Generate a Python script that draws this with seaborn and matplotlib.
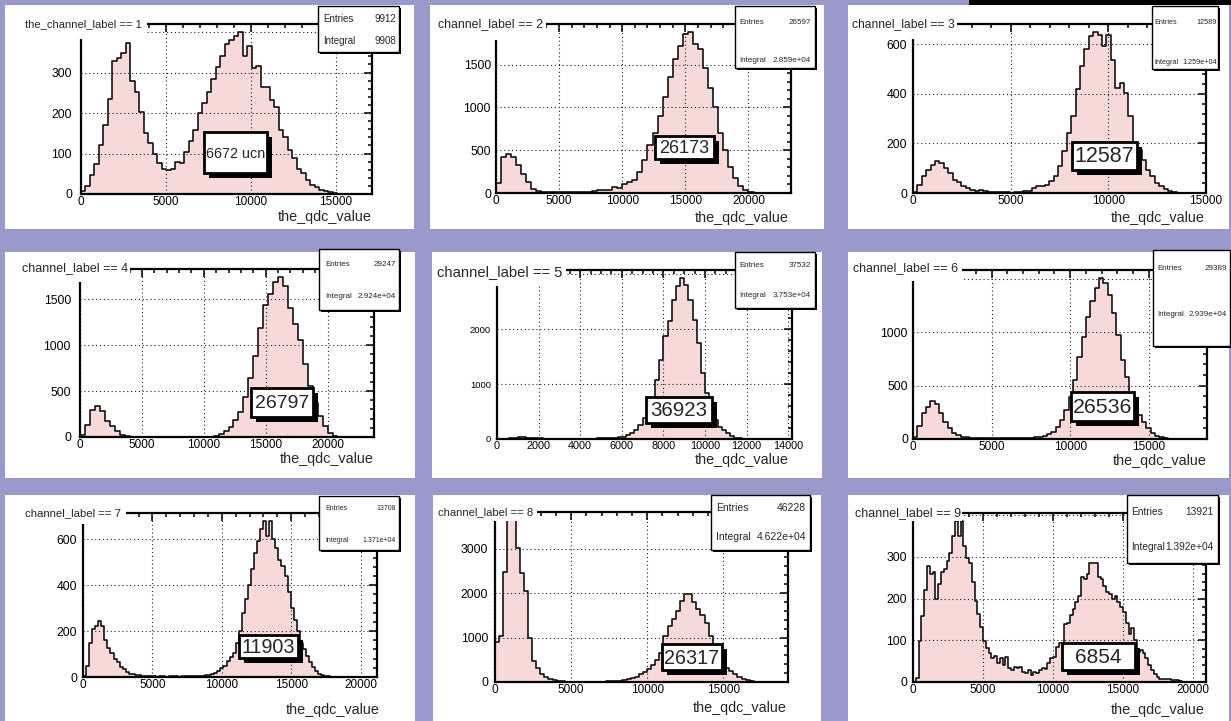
import numpy as np
import pandas as pd
import seaborn as sns
import matplotlib.pyplot as plt
from matplotlib.patches import Rectangle
from matplotlib.ticker import MultipleLocator, AutoMinorLocator, FuncFormatter

# --- dati: larghezza dei bin (unita' qdc) e conteggi per canale ---
ch1_width = 265
ch1_counts = [8, 20, 47, 74, 120, 171, 235, 329, 336, 348, 373, 280, 253, 202, 150, 125, 99, 76, 63,
              59, 63, 80, 76, 105, 130, 158, 200, 224, 253, 284, 315, 340, 370, 381, 390, 400, 340,
              366, 311, 316, 264, 264, 232, 216, 158, 142, 109, 88, 63, 51, 35, 22, 18, 10, 8, 5, 3]

ch2_width = 400
ch2_counts = [120, 420, 455, 420, 330, 226, 128, 50, 23, 12, 10, 8, 8, 10, 10, 12, 12, 15, 15, 20,
              30, 30, 40, 70, 60, 100, 130, 150, 250, 380, 560, 700, 900, 1120, 1350, 1560, 1720,
              1860, 1880, 1740, 1680, 1460, 1230, 1000, 700, 500, 300, 180, 80, 30, 8]

ch3_width = 225
ch3_counts = [3, 34, 67, 94, 115, 131, 121, 101, 81, 54, 43, 30, 20, 11, 10, 12, 8, 5, 4, 4, 4, 3,
              2, 3, 6, 7, 10, 20, 27, 28, 34, 47, 67, 108, 169, 243, 310, 418, 512, 580, 634, 650,
              640, 595, 640, 539, 425, 445, 404, 310, 202, 175, 135, 94, 67, 40, 27, 16, 9, 4, 2]

ch4_width = 400
ch4_counts = [20, 130, 290, 333, 279, 175, 116, 62, 25, 8, 5, 3, 2, 2, 2, 1, 1, 2, 1, 1, 1, 2, 2,
              1, 2, 2, 3, 10, 30, 65, 110, 180, 270, 430, 640, 880, 1180, 1440, 1550, 1690, 1740,
              1640, 1400, 1230, 1060, 790, 551, 370, 225, 116, 43, 14, 4]

ch5_width = 200
ch5_counts = [0, 2, 5, 10, 25, 35, 30, 25, 20, 12, 10, 8, 8, 6, 6, 5, 5, 5, 5, 5, 5, 6, 6, 8, 10,
              12, 15, 20, 25, 30, 40, 73, 115, 164, 255, 377, 529, 711, 1076, 1441, 1866, 2140,
              2535, 2778, 2930, 2808, 2535, 2170, 1745, 1198, 833, 529, 347, 225, 164, 103, 55,
              24, 10, 4]

ch6_width = 275
ch6_counts = [20, 120, 241, 304, 360, 329, 241, 163, 100, 60, 38, 22, 15, 12, 10, 6, 6, 5, 5, 5,
              5, 5, 5, 5, 6, 8, 10, 14, 16, 20, 30, 45, 69, 116, 179, 273, 398, 555, 774, 962,
              1150, 1291, 1417, 1511, 1464, 1354, 1182, 978, 743, 586, 429, 335, 226, 163, 100,
              60, 28, 16, 6]

ch7_width = 220
ch7_counts = [5, 47, 148, 207, 221, 243, 220, 160, 127, 105, 80, 65, 45, 35, 20, 15, 13, 10, 7, 6,
              5, 4, 3, 3, 2, 3, 3, 2, 3, 3, 3, 2, 3, 3, 4, 3, 4, 5, 6, 6, 8, 10, 14, 17, 25, 39,
              50, 68, 85, 105, 150, 200, 279, 340, 400, 469, 540, 590, 643, 680, 614, 680, 600,
              560, 510, 483, 440, 370, 300, 250, 200, 150, 120, 90, 65, 45, 25, 15, 10, 5, 3, 2]

ch8_width = 270
ch8_counts = [900, 1030, 2480, 3640, 3640, 3015, 2440, 2050, 1000, 480, 310, 190, 114, 61, 40, 25,
              15, 8, 3, 2, 2, 1, 1, 2, 3, 5, 8, 12, 18, 23, 30, 45, 60, 90, 120, 180, 220, 282,
              380, 496, 649, 1030, 1250, 1412, 1603, 1832, 1985, 1985, 1794, 1641, 1500, 1336,
              1030, 725, 572, 496, 305, 250, 190, 114, 61, 35, 23, 10, 5]

ch9_width = 200
ch9_counts = [0, 10, 98, 159, 220, 277, 260, 264, 200, 236, 264, 272, 290, 309, 350, 386, 350, 386,
              325, 297, 285, 240, 195, 163, 131, 98, 82, 70, 58, 62, 45, 58, 41, 59, 33, 29, 37,
              33, 37, 25, 21, 29, 17, 25, 21, 29, 33, 30, 45, 58, 61, 85, 93, 93, 138, 142, 160,
              175, 191, 207, 252, 248, 260, 285, 285, 285, 252, 248, 230, 215, 211, 199, 207, 191,
              180, 167, 142, 114, 130, 100, 73, 77, 69, 57, 41, 28, 20, 12, 8, 6, 6, 6, 5, 4, 4, 2]

widths = [ch1_width, ch2_width, ch3_width, ch4_width, ch5_width, ch6_width, ch7_width, ch8_width, ch9_width]
all_counts = [ch1_counts, ch2_counts, ch3_counts, ch4_counts, ch5_counts, ch6_counts,
              ch7_counts, ch8_counts, ch9_counts]

titles = ["the_channel_label == 1"] + ["channel_label == %d" % i for i in range(2, 10)]
entries = ["9912", "26597", "12589", "29247", "37532", "29389", "13708", "46228", "13921"]
integrals = ["9908", "2.859e+04", "1.259e+04", "2.924e+04", "3.753e+04", "2.939e+04",
             "1.371e+04", "4.622e+04", "1.392e+04"]
ucn_labels = ["6672 ucn", "26173", "12587", "26797", "36923", "26536", "11903", "26317", "6854"]
xlabel = "the_qdc_value"

# --- impaginazione in pixel (x0, y0, x1, y1); ylab_max = ultima etichetta y visibile ---
layout = [
    dict(panel=(5, 5, 414, 229), frame=(81, 24, 372, 194), xmax=17150, xstep=5000, ystep=100,
         ylab_max=300, ypad=6.5, yfs=8.8,
         tbox=(20, 9, 147, 39), txy=(25, 24), tfs=8.0,
         sbox=(318, 6, 399, 52), srows=(19, 41), sx=(323, 396), sfs=7.0,
         lbox=(204, 132, 267, 173), lfs=10.4, xl=(372, 217)),
    dict(panel=(430, 5, 824, 229), frame=(496, 24, 791, 193), xmax=23370, xstep=5000, ystep=500,
         ylab_max=1500, ypad=3.6, yfs=8.8,
         tbox=(433, 9, 546, 40), txy=(438, 24), tfs=8.9,
         sbox=(735, 6, 815, 68), srows=(23, 61), sx=(739, 811), sfs=5.8,
         lbox=(655, 136, 714, 159), lfs=13.1, xl=(789, 218)),
    dict(panel=(848, 5, 1229, 229), frame=(913, 24, 1206, 193), xmax=15000, xstep=5000, ystep=200,
         ylab_max=600, ypad=4.3, yfs=8.8,
         tbox=(849, 9, 957, 39), txy=(852, 24), tfs=8.7,
         sbox=(1152, 6, 1218, 69), srows=(23, 63), sx=(1154, 1217), sfs=5.2,
         lbox=(1072, 142, 1137, 170), lfs=15.5, xl=(1205, 218)),
    dict(panel=(5, 252, 415, 478), frame=(80, 269, 374, 437), xmax=23750, xstep=5000, ystep=500,
         ylab_max=1500, ypad=6.5, yfs=8.8,
         tbox=(18, 255, 130, 282), txy=(22, 268), tfs=9.0,
         sbox=(319, 249, 399, 310), srows=(264, 297), sx=(325, 396), sfs=5.8,
         lbox=(251, 388, 313, 417), lfs=14.0, xl=(374, 459)),
    dict(panel=(432, 252, 822, 478), frame=(497, 270, 792, 439), xmax=14180, xstep=2000, ystep=1000,
         ylab_max=2000, ypad=4.3, yfs=6.8,
         tbox=(434, 256, 566, 286), txy=(437, 272), tfs=10.6,
         sbox=(735, 252, 815, 308), srows=(265, 295), sx=(739, 811), sfs=5.8,
         lbox=(646, 397, 712, 423), lfs=14.8, xl=(789, 460)),
    dict(panel=(848, 252, 1229, 478), frame=(913, 270, 1207, 439), xmax=18700, xstep=5000, ystep=500,
         ylab_max=1000, ypad=3.6, yfs=8.8,
         tbox=(850, 256, 962, 281), txy=(853, 268), tfs=8.9,
         sbox=(1153, 250, 1230, 346), srows=(268, 314), sx=(1157, 1227), sfs=5.8,
         lbox=(1071, 392, 1134, 421), lfs=15.3, xl=(1207, 461)),
    dict(panel=(5, 495, 415, 721), frame=(83, 513, 377, 677), xmax=21180, xstep=5000, ystep=200,
         ylab_max=600, ypad=4.3, yfs=8.8,
         tbox=(20, 500, 126, 524), txy=(25, 513), tfs=8.2,
         sbox=(319, 496, 399, 550), srows=(509, 541), sx=(325, 396), sfs=5.0,
         lbox=(239, 635, 298, 658), lfs=14.2, xl=(380, 710)),
    dict(panel=(433, 495, 821, 721), frame=(495, 512, 788, 682), xmax=19250, xstep=5000, ystep=1000,
         ylab_max=3000, ypad=5.0, yfs=8.8,
         tbox=(436, 500, 537, 521), txy=(438, 512), tfs=8.1,
         sbox=(711, 495, 810, 550), srows=(508, 537), sx=(716, 806), sfs=7.5,
         lbox=(662, 644, 722, 670), lfs=14.2, xl=(787, 708)),
    dict(panel=(848, 495, 1229, 721), frame=(913, 513, 1206, 682), xmax=20930, xstep=5000, ystep=100,
         ylab_max=300, ypad=4.3, yfs=8.8,
         tbox=(852, 500, 962, 521), txy=(855, 513), tfs=9.0,
         sbox=(1127, 495, 1218, 563), srows=(512, 547), sx=(1131, 1214), sfs=7.3,
         lbox=(1062, 643, 1135, 670), lfs=15.0, xl=(1205, 710)),
]

W, H = 1231, 721
BG = "#9999cc"
PINK = "#f8d9d9"

sns.set_theme(style="white")
plt.rcParams['font.family'] = ['Liberation Sans', 'DejaVu Sans']


def fx(x):
    return x / W


def fy(y):
    return 1 - y / H


def box(fig, b, shadow=0, lw=1.0, edge="black", z=5):
    x0, y0, x1, y1 = b
    if shadow:
        fig.patches.append(Rectangle((fx(x0 + shadow), fy(y1 + shadow)), (x1 - x0) / W, (y1 - y0) / H,
                                     transform=fig.transFigure, facecolor="black",
                                     edgecolor="none", zorder=z))
    fig.patches.append(Rectangle((fx(x0), fy(y1)), (x1 - x0) / W, (y1 - y0) / H,
                                 transform=fig.transFigure, facecolor="white",
                                 edgecolor=edge, linewidth=lw, zorder=z + 0.1))


def ylabel_fmt(limit):
    # le etichette coperte dal box del titolo non si vedono
    return FuncFormatter(lambda v, pos: "%d" % v if v <= limit + 1e-6 else "")


fig = plt.figure(figsize=(W / 100, H / 100), dpi=100, facecolor=BG)

# barra nera in alto a destra
fig.patches.append(Rectangle((fx(969), fy(5)), (1231 - 969) / W, 5 / H, transform=fig.transFigure,
                             facecolor="black", edgecolor="none", zorder=-1))

for i, L in enumerate(layout):
    # sfondo bianco del pad
    px0, py0, px1, py1 = L["panel"]
    fig.patches.append(Rectangle((fx(px0), fy(py1)), (px1 - px0) / W, (py1 - py0) / H,
                                 transform=fig.transFigure, facecolor="white",
                                 edgecolor="none", zorder=-1))

    x0, y0, x1, y1 = L["frame"]
    ax = fig.add_axes([fx(x0), fy(y1), (x1 - x0) / W, (y1 - y0) / H])
    ax.set_facecolor("white")

    counts = np.array(all_counts[i], dtype=float)
    w = widths[i]
    top = len(counts) * w
    df = pd.DataFrame({"qdc": np.arange(len(counts)) * w + w / 2, "n": counts})
    sns.histplot(data=df, x="qdc", weights="n", binwidth=w, binrange=(0, top), element="step",
                 fill=True, color=PINK, edgecolor="black", linewidth=1.1, alpha=1, ax=ax)

    ax.set_xlim(0, L["xmax"])
    ax.set_ylim(0, counts.max() * 1.05)
    ax.set_xlabel("")
    ax.set_ylabel("")
    ax.xaxis.set_major_locator(MultipleLocator(L["xstep"]))
    ax.yaxis.set_major_locator(MultipleLocator(L["ystep"]))
    ax.yaxis.set_major_formatter(ylabel_fmt(L["ylab_max"]))
    ax.xaxis.set_minor_locator(AutoMinorLocator(4 if L["xstep"] == 2000 else 5))
    ax.yaxis.set_minor_locator(AutoMinorLocator(5))
    ax.tick_params(which="both", direction="in", top=True, right=True, colors="black", width=1.1)
    ax.tick_params(which="major", length=5.5)
    ax.tick_params(which="minor", length=3.2)
    ax.tick_params(axis="x", labelsize=8.5 if L["xstep"] != 2000 else 7.8,
                   pad=1.5 if L["xstep"] != 2000 else 1.2)
    ax.tick_params(axis="y", labelsize=L["yfs"], pad=L["ypad"])
    for s in ax.spines.values():
        s.set_color("black")
        s.set_linewidth(1.6)
    ax.grid(True, which="major", color="#222222", linestyle=(0, (1, 2.5)), linewidth=0.8)
    ax.set_axisbelow(False)

    # titolo (box bianco senza bordo)
    box(fig, L["tbox"], lw=0, edge="none", z=5)
    fig.text(fx(L["txy"][0]), fy(L["txy"][1]), titles[i], ha="left", va="center",
             fontsize=L["tfs"], zorder=7)

    # box statistiche
    box(fig, L["sbox"], shadow=2, lw=1.0, z=5)
    sx0, sx1 = L["sx"]
    r0, r1 = L["srows"]
    fig.text(fx(sx0), fy(r0), "Entries", ha="left", va="center", fontsize=L["sfs"], zorder=7)
    fig.text(fx(sx1), fy(r0), entries[i], ha="right", va="center", fontsize=L["sfs"], zorder=7)
    fig.text(fx(sx0), fy(r1), "Integral", ha="left", va="center", fontsize=L["sfs"], zorder=7)
    fig.text(fx(sx1), fy(r1), integrals[i], ha="right", va="center", fontsize=L["sfs"], zorder=7)

    # etichetta con il numero di ucn
    box(fig, L["lbox"], shadow=5, lw=2.0, z=5)
    lx0, ly0, lx1, ly1 = L["lbox"]
    fig.text(fx((lx0 + lx1) / 2), fy((ly0 + ly1) / 2 + 1), ucn_labels[i], ha="center", va="center",
             fontsize=L["lfs"], zorder=7)

    # titolo asse x
    fig.text(fx(L["xl"][0]), fy(L["xl"][1]), xlabel, ha="right", va="center", fontsize=10.4, zorder=7)

fig.savefig("out.png", dpi=100, facecolor=BG)
